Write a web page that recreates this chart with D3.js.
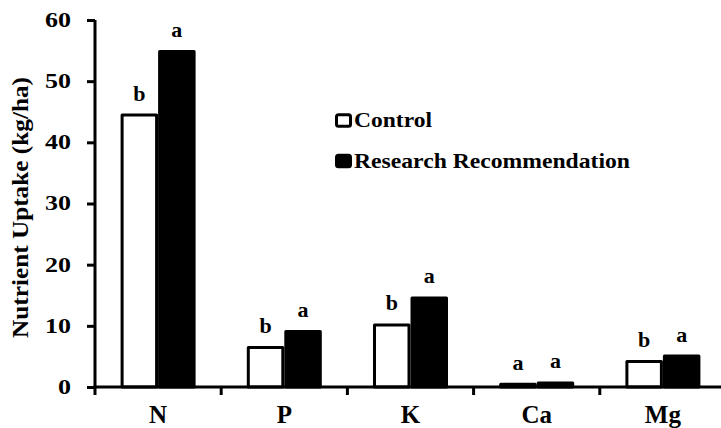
<!DOCTYPE html>
<html><head><meta charset="utf-8">
<script src="https://cdn.jsdelivr.net/npm/d3@7"></script>
<style>body{margin:0;background:#fff} svg text{font-family:"Liberation Serif","Times New Roman",Times,serif;font-weight:bold;fill:#000}</style>
</head><body>
<script>
const categories = ["N", "P", "K", "Ca", "Mg"];
const seriesNames = ["Control", "Research Recommendation"];
const controlValues = [44.7, 6.7, 10.4, 0.7, 4.4];
const researchValues = [55.1, 9.3, 14.8, 0.9, 5.3];
const controlLetters = ["b", "b", "b", "a", "b"];
const researchLetters = ["a", "a", "a", "a", "a"];
const yTicks = [0, 10, 20, 30, 40, 50, 60];

const W = 721, H = 428;
const svg = d3.select("body").append("svg").attr("width", W).attr("height", H);

const x0 = 95, x1 = 726, yTop = 20, yBot = 387;
const x = d3.scaleBand().domain(categories).range([x0, x1]).paddingInner(0).paddingOuter(0);
const y = d3.scaleLinear().domain([0, 60]).range([yBot, yTop]);
const bw = 37.5;

const rows = categories.map((c, i) => ({c, v: [controlValues[i], researchValues[i]], l: [controlLetters[i], researchLetters[i]]}));

const g = svg.append("g");
rows.forEach(r => {
  const cx = x(r.c) + x.bandwidth() / 2;
  [0, 1].forEach(s => {
    const left = s === 0 ? cx - bw : cx;
    g.append("rect")
      .attr("x", left + 1.5).attr("y", y(r.v[s]) + 1.5)
      .attr("width", bw - 3).attr("height", Math.max(0, y(0) - y(r.v[s]) - 1.5))
      .attr("fill", s === 0 ? "#fff" : "#000")
      .attr("stroke", "#000").attr("stroke-width", 3).attr("stroke-linejoin", "round");
    g.append("text").attr("x", left + bw / 2).attr("y", y(r.v[s]) - 13)
      .attr("text-anchor", "middle").attr("font-size", 22).text(r.l[s]);
  });
});

// Y axis
const yAxis = svg.append("g").attr("transform", `translate(${x0},0)`)
  .call(d3.axisLeft(y).tickValues(yTicks).tickSize(8).tickPadding(16));
yAxis.attr("font-family", null).attr("font-size", null);
yAxis.select(".domain").attr("stroke-width", 3).attr("d", `M0,${yTop}V${yBot}`);
yAxis.selectAll(".tick line").attr("stroke-width", 3);
yAxis.selectAll(".tick text").attr("font-size", 20)
  .attr("textLength", d => String(d).length * 13).attr("lengthAdjust", "spacingAndGlyphs");

// X axis
const xAxis = svg.append("g").attr("transform", `translate(0,${yBot})`);
xAxis.append("line").attr("x1", x0 - 1.5).attr("x2", x1).attr("y1", 0).attr("y2", 0)
  .attr("stroke", "#000").attr("stroke-width", 3);
categories.forEach(c => {
  xAxis.append("line").attr("x1", x(c)).attr("x2", x(c)).attr("y1", 0).attr("y2", 8)
    .attr("stroke", "#000").attr("stroke-width", 3);
  xAxis.append("text").attr("x", x(c) + x.bandwidth() / 2).attr("y", 36)
    .attr("text-anchor", "middle").attr("font-size", 25).text(c);
});

// Y title
svg.append("text").attr("transform", `translate(28,207.5) rotate(-90)`)
  .attr("text-anchor", "middle").attr("font-size", 23)
  .attr("textLength", 261).attr("lengthAdjust", "spacingAndGlyphs")
  .text("Nutrient Uptake (kg/ha)");

// Legend
const lg = svg.append("g");
const legendLens = [78, 276];
seriesNames.forEach((n, i) => {
  const base = 127.3 + i * 40.4;
  lg.append("rect").attr("x", 336.5).attr("y", base - 12.5).attr("width", 14).attr("height", 11.5).attr("rx", 2)
    .attr("fill", i === 0 ? "#fff" : "#000").attr("stroke", "#000").attr("stroke-width", 3);
  lg.append("text").attr("x", 354).attr("y", base).attr("font-size", 22)
    .attr("textLength", legendLens[i]).attr("lengthAdjust", "spacingAndGlyphs").text(n);
});
</script>
</body></html>
